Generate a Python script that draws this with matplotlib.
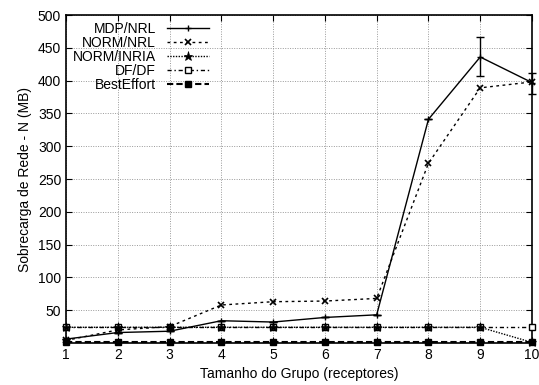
import matplotlib
matplotlib.use("Agg")
import matplotlib.pyplot as plt
from matplotlib.lines import Line2D
import numpy as np

x = [1, 2, 3, 4, 5, 6, 7, 8, 9, 10]
mdp_nrl = [6, 16, 18, 34, 32, 39, 43, 341, 436, 397]
mdp_err_lo = [0, 0, 0, 0, 0, 0, 0, 0, 29, 17]
mdp_err_hi = [0, 0, 0, 0, 0, 0, 0, 0, 30, 15]
norm_nrl = [4, 20, 25, 58, 63, 64, 68, 274, 389, 398]
norm_inria = [24, 24, 24, 24, 24, 24, 24, 24, 24, 1]
df_df = [24, 24, 24, 24, 24, 24, 24, 24, 24, 24]
best_effort = [2, 2, 2, 2, 2, 2, 2, 2, 2, 2]
yticks = [50, 100, 150, 200, 250, 300, 350, 400, 450, 500]

plt.rcParams['font.family'] = ['Liberation Sans', 'DejaVu Sans']
fig = plt.figure(figsize=(5.39, 3.85), dpi=100)
ax = fig.add_axes([0.1225, 0.109, 0.8645, 0.852])

styles = [
    dict(lw=1.0, ls='-', marker='+', ms=5, mew=1),
    dict(lw=1.0, ls=(0, (2, 2.5)), marker='x', ms=4.5, mew=1.2),
    dict(lw=1.0, ls=(0, (1, 1)), marker='*', ms=6.5, mew=0.5),
    dict(lw=1.0, ls=(0, (3, 2, 1, 2)), marker='s', ms=5, mew=1, mfc='white'),
    dict(lw=1.5, ls=(0, (3, 1.5)), marker='s', ms=5),
]
labels = ['MDP/NRL', 'NORM/NRL', 'NORM/INRIA', 'DF/DF', 'BestEffort']

ax.errorbar(x, mdp_nrl, yerr=[mdp_err_lo, mdp_err_hi], color='black',
            capsize=3, elinewidth=1, zorder=5, clip_on=False, **styles[0])
ax.plot(x, norm_nrl, color='black', zorder=4, clip_on=False, **styles[1])
ax.plot(x, norm_inria, color='black', zorder=4, clip_on=False, **styles[2])
ax.plot(x, df_df, color='black', zorder=3, clip_on=False, **styles[3])
ax.plot(x, best_effort, color='black', zorder=3, clip_on=False, **styles[4])

handles = [Line2D([], [], color='black', **s) for s in styles]

ax.set_xlim(1, 10)
ax.set_ylim(0, 500)
ax.set_xticks(x)
ax.set_yticks(yticks)
ax.tick_params(direction='in', top=True, right=True, labelsize=10, length=4)
ax.grid(True, color='#999999', ls=(0, (1, 1.5)), lw=0.7)
for s in ax.spines.values():
    s.set_linewidth(1.2)

ax.set_xlabel('Tamanho do Grupo (receptores)', fontsize=10)
ax.set_ylabel('Sobrecarga de Rede - N (MB)', fontsize=10)

leg = ax.legend(handles, labels, loc='upper left', frameon=False, markerfirst=False, fontsize=10,
                handlelength=3.0, labelspacing=0.0, borderaxespad=0.1,
                bbox_to_anchor=(0.0, 1.0), handletextpad=0.8)

fig.savefig('out.png', dpi=100)
